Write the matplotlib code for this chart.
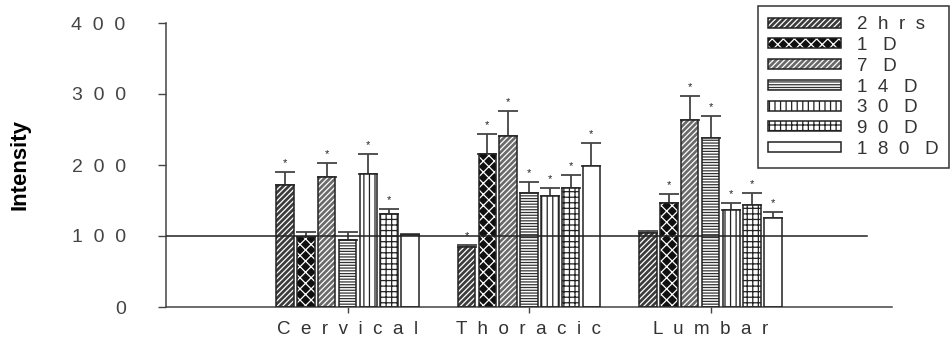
import numpy as np
import matplotlib
matplotlib.use('Agg')
import matplotlib.pyplot as plt
from matplotlib.patches import Patch
from matplotlib.legend_handler import HandlerTuple

plt.rcParams['font.family'] = ['Liberation Sans', 'DejaVu Sans']
plt.rcParams['hatch.linewidth'] = 0.9

# data
regions  = ['C  e  r  v  i  c  a  l', 'T  h  o  r  a  c  i  c', 'L  u  m  b  a  r']
times    = ['2  h  r  s', '1   D', '7   D', '1  4   D', '3  0   D', '9  0   D', '1  8  0   D']
means    = [[172, 99, 183, 95, 188, 131, 101],     # cervical
            [84, 215, 241, 160, 156, 168, 198],    # thoracic
            [104, 146, 263, 238, 136, 143, 125]]   # lumbar
errors   = [[18, 6, 20, 11, 27, 7, 2],
            [3, 28, 35, 16, 11, 18, 33],
            [3, 13, 34, 31, 10, 17, 9]]
signif   = [[1, 0, 1, 0, 1, 1, 0],
            [1, 1, 1, 1, 1, 1, 1],
            [0, 1, 1, 1, 1, 1, 1]]
yticks   = [0, 100, 200, 300, 400]
ytlabels = ['0', '1  0  0', '2  0  0', '3  0  0', '4  0  0']

# pattern per time point: facecolor, hatch, hatch colour
styles = [('#3c3c3c', '//////', 'white'),
          ('#101010', 'xxx', 'white'),
          ('#6a6a6a', '//////', 'white'),
          ('white', '------', '#333333'),
          ('white', '|||', '#222222'),
          ('white', '+++', '#222222'),
          ('white', '', 'white')]

fig = plt.figure(figsize=(9.51, 3.46), dpi=100)
ax = fig.add_axes([166/951, 1-307/346, (892-166)/951, (307-23)/346])

width = 0.096
step = 0.1146
xc = np.arange(len(regions))
handles = []
for j in range(len(times)):
    fc, hatch, hc = styles[j]
    xs = xc + (j-3)*step
    vals = [means[i][j] for i in range(len(regions))]
    errs = [errors[i][j] for i in range(len(regions))]
    ax.bar(xs, vals, width, color=fc, hatch=hatch, edgecolor=hc, linewidth=0, zorder=2)
    ax.bar(xs, vals, width, fill=False, edgecolor='#222222', linewidth=1.1, zorder=3)
    ax.errorbar(xs, vals, yerr=[np.zeros(len(errs)), errs], fmt='none',
                ecolor='#444444', elinewidth=1.3, capsize=7, capthick=1.3, zorder=1)
    for i in range(len(regions)):
        if signif[i][j]:
            ax.text(xs[i], vals[i]+errs[i]+6, '*', ha='center', va='bottom',
                    fontsize=8, color='#222222')
    handles.append((Patch(facecolor=fc, hatch=hatch, edgecolor=hc, linewidth=0),
                    Patch(fill=False, edgecolor='#222222', linewidth=1.1)))

ax.plot([-1, 2.86], [100, 100], color='#222222', linewidth=1.1, zorder=4)

ax.set_xlim(-1, 3)
ax.set_ylim(0, 400)
ax.set_xticks(xc)
ax.set_xticklabels(regions, fontsize=13.5, color='#333333')
ax.set_yticks(yticks)
ax.set_yticklabels(ytlabels, fontsize=14, color='#444444')
ax.tick_params(axis='y', length=6, width=1, color='#444444', pad=23)
ax.tick_params(axis='x', length=4, width=1, color='#444444', pad=6)
for s in ['top', 'right']:
    ax.spines[s].set_visible(False)
for s in ['left', 'bottom']:
    ax.spines[s].set_color('#444444')
    ax.spines[s].set_linewidth(1.1)
ax.set_ylabel('Intensity', fontsize=16, fontweight='bold')
ax.yaxis.set_label_coords(-135/726, 0.5)

leg = fig.legend(handles, times, loc='upper right', bbox_to_anchor=(949/951, 1-6/346),
                 bbox_transform=fig.transFigure, fontsize=13.5, handlelength=3.9,
                 handleheight=0.45, labelspacing=0.2, handletextpad=0.85,
                 borderpad=0.55, borderaxespad=0, fancybox=False, framealpha=1,
                 handler_map={tuple: HandlerTuple(ndivide=1)})
leg.get_frame().set_edgecolor('#333333')
leg.get_frame().set_linewidth(1.1)
for t in leg.get_texts():
    t.set_color('#333333')

fig.savefig('out.png', dpi=100)
